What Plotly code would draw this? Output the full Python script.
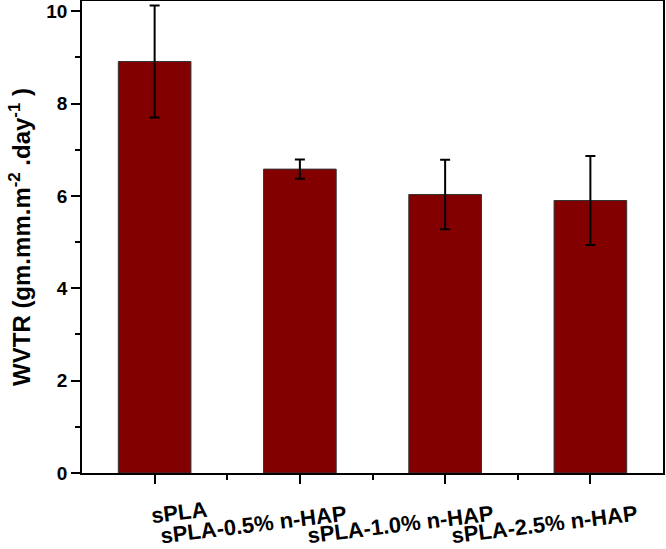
import plotly.graph_objects as go

categories = ["sPLA", "sPLA-0.5% n-HAP", "sPLA-1.0% n-HAP", "sPLA-2.5% n-HAP"]
wvtr = [8.91, 6.58, 6.03, 5.90]
wvtr_err = [1.21, 0.21, 0.75, 0.965]
y_ticks = [0, 2, 4, 6, 8, 10]

FONT = "Liberation Sans, Arial, sans-serif"
xpos = list(range(len(categories)))

fig = go.Figure()
fig.add_trace(go.Bar(
    x=xpos, y=wvtr, width=0.5,
    marker=dict(color="#830000", line=dict(color="#333333", width=1)),
    error_y=dict(type="data", array=wvtr_err, visible=True,
                 color="black", thickness=2, width=5),
))

# staggered, slightly tilted category labels
label_shift = [24, -46, -45, -46]
label_y = [-0.083, -0.110, -0.110, -0.110]
for i, lab in enumerate(categories):
    fig.add_annotation(x=xpos[i], y=label_y[i], xref="x", yref="paper",
                       xanchor="center", yanchor="middle",
                       text="<b>%s</b>" % lab, showarrow=False,
                       textangle=-7, xshift=label_shift[i],
                       font=dict(family=FONT, size=22, color="black"))

fig.update_layout(
    width=666, height=549,
    margin=dict(l=82, r=3, t=1, b=76),
    plot_bgcolor="white", paper_bgcolor="white",
    showlegend=False,
    font=dict(family=FONT, color="black"),
)
fig.update_xaxes(
    range=[-0.5, 3.5], tickvals=xpos, showticklabels=False,
    automargin=False,
    ticks="outside", ticklen=9, tickwidth=1.5, tickcolor="black",
    minor=dict(tickvals=[0.5, 1.5, 2.5], ticks="outside", ticklen=5,
               tickwidth=1.5, tickcolor="black"),
    showline=True, linecolor="black", linewidth=1.5, mirror=True,
    showgrid=False, zeroline=False,
)
fig.update_yaxes(
    range=[0, 10.22], tickvals=y_ticks,
    ticktext=["<b>%d</b>" % v for v in y_ticks],
    tickfont=dict(family=FONT, size=19, color="black"),
    automargin=False,
    ticks="outside", ticklen=9, tickwidth=1.5, tickcolor="black",
    minor=dict(dtick=1, ticks="outside", ticklen=5, tickwidth=1.5,
               tickcolor="black"),
    showline=True, linecolor="black", linewidth=1.5, mirror=True,
    showgrid=False, zeroline=False,
    title=dict(text="<b>WVTR (gm.mm.m<sup>-2</sup> .day<sup>-1</sup> )</b>",
               font=dict(family=FONT, size=24, color="black"), standoff=9),
)

fig.write_html("out.html",
               config={"displayModeBar": False},
               post_script="document.body.style.margin='0';"
                           "document.body.style.padding='0';")
